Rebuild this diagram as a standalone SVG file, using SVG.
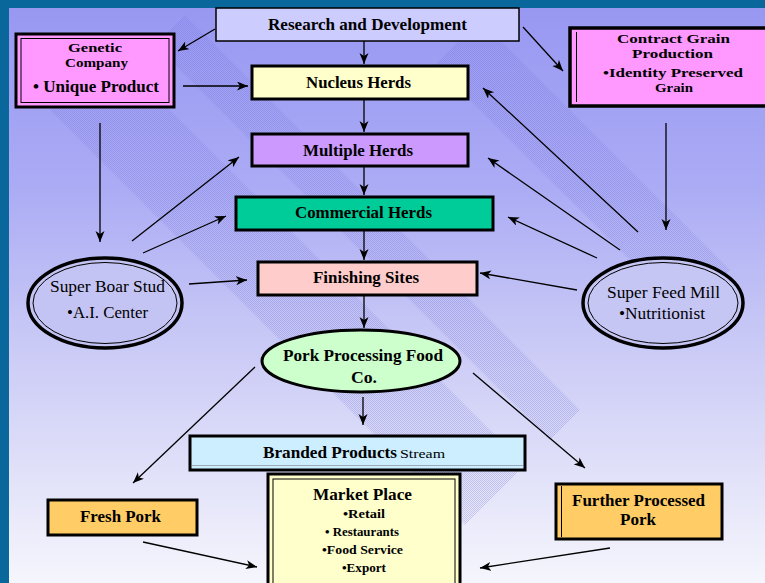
<svg xmlns="http://www.w3.org/2000/svg" width="765" height="583" viewBox="0 0 765 583">
<defs>
<linearGradient id="bg" x1="0" y1="0" x2="0" y2="1">
<stop offset="0" stop-color="#9898f2"/>
<stop offset="0.3" stop-color="#aaaaf5"/>
<stop offset="0.55" stop-color="#c6c6f6"/>
<stop offset="0.8" stop-color="#e0e0f9"/>
<stop offset="1" stop-color="#f6f6fd"/>
</linearGradient>
<pattern id="hatch" width="2" height="2" patternUnits="userSpaceOnUse">
<rect x="0" y="0" width="1" height="1" fill="#6f6fd6"/>
<rect x="1" y="1" width="1" height="1" fill="#6f6fd6"/>
</pattern>
<marker id="ah" markerUnits="userSpaceOnUse" markerWidth="12" markerHeight="10" refX="11" refY="4.5" orient="auto">
<path d="M0,0 L11,4.5 L0,9 L3,4.5 z" fill="#000"/>
</marker>
<style>
.box{stroke:#000;stroke-width:3}
.thin{fill:none;stroke:#000;stroke-width:1}
.t{font-family:"Liberation Serif","Times New Roman",serif;font-weight:bold;font-size:16px;fill:#000;text-anchor:middle}
.n{font-family:"Liberation Serif","Times New Roman",serif;font-weight:normal;font-size:16px;fill:#000;text-anchor:middle}
.s{font-size:13.5px}
.xs{font-size:13px}
.c line{stroke:#000;stroke-width:1.3;marker-end:url(#ah)}
.band{fill:url(#hatch);opacity:0.3}
</style>
</defs>

<rect x="0" y="0" width="765" height="583" fill="#0a679c"/>
<rect x="9" y="8" width="756" height="575" fill="url(#bg)"/>
<g id="bands">
<polygon class="band" points="50,110 110,50 525,465 465,525"/>
<polygon class="band" points="155,45 185,15 580,410 550,440"/>
<polygon class="band" points="435,65 480,20 730,270 685,315"/>
</g>

<g class="c" id="connectors">
<line x1="215" y1="29" x2="178" y2="51"/>
<line x1="523" y1="27" x2="563" y2="71"/>
<line x1="364" y1="41" x2="364" y2="64"/>
<line x1="183" y1="86" x2="248" y2="86"/>
<line x1="364" y1="100" x2="364" y2="132"/>
<line x1="364" y1="166" x2="364" y2="195"/>
<line x1="364" y1="231" x2="364" y2="260"/>
<line x1="364" y1="296" x2="364" y2="328"/>
<line x1="100" y1="123" x2="100" y2="242"/>
<line x1="666" y1="123" x2="666" y2="230"/>
<line x1="132" y1="241" x2="239" y2="157"/>
<line x1="143" y1="253" x2="226" y2="216"/>
<line x1="189" y1="284" x2="247" y2="280"/>
<line x1="638" y1="232" x2="483" y2="88"/>
<line x1="620" y1="250" x2="488" y2="158"/>
<line x1="597" y1="258" x2="508" y2="217"/>
<line x1="577" y1="290" x2="480" y2="273"/>
<line x1="255" y1="367" x2="133" y2="483"/>
<line x1="473" y1="373" x2="585" y2="468"/>
<line x1="363" y1="397" x2="363" y2="425"/>
<line x1="143" y1="542" x2="257" y2="567"/>
<line x1="610" y1="548" x2="480" y2="568"/>
</g>

<g id="rd">
<rect x="216" y="8" width="303" height="33" fill="#ccccff" stroke="#000" stroke-width="1.5"/>
<text class="t" x="367.5" y="30" textLength="199" lengthAdjust="spacingAndGlyphs">Research and Development</text>
</g>

<g id="genetic">
<rect class="box" x="16" y="34" width="158" height="73" fill="#ff99ff" stroke-width="3.5"/>
<rect class="thin" x="21" y="38.5" width="148" height="64"/>
<text class="t xs" x="95" y="52" textLength="54" lengthAdjust="spacingAndGlyphs">Genetic</text>
<text class="t xs" x="96.5" y="67" textLength="63" lengthAdjust="spacingAndGlyphs">Company</text>
<text class="t" x="96" y="92" textLength="126" lengthAdjust="spacingAndGlyphs">• Unique Product</text>
</g>

<g id="nucleus">
<rect class="box" x="252" y="66" width="216" height="33" fill="#ffffcc"/>
<text class="t" x="358.5" y="88" textLength="105" lengthAdjust="spacingAndGlyphs">Nucleus Herds</text>
</g>

<g id="contract">
<rect x="570" y="28" width="200" height="78" fill="#ff99ff"/>
<text class="t xs" x="673.5" y="43" textLength="113" lengthAdjust="spacingAndGlyphs">Contract Grain</text>
<text class="t xs" x="672.5" y="58" textLength="81" lengthAdjust="spacingAndGlyphs">Production</text>
<text class="t xs" x="673" y="77" textLength="140" lengthAdjust="spacingAndGlyphs">•Identity Preserved</text>
<text class="t xs" x="674" y="92" textLength="38" lengthAdjust="spacingAndGlyphs">Grain</text>
<rect x="570" y="28" width="200" height="78" fill="none" stroke="#000" stroke-width="3.5"/>
<line x1="576.5" y1="32" x2="576.5" y2="102" stroke="#000" stroke-width="1"/>
</g>

<g id="multiple">
<rect class="box" x="252" y="134" width="216" height="32" fill="#cc99ff"/>
<text class="t" x="358" y="156" textLength="110" lengthAdjust="spacingAndGlyphs">Multiple Herds</text>
</g>

<g id="commercial">
<rect class="box" x="236" y="197" width="257" height="33" fill="#00cc99"/>
<text class="t" x="363.5" y="218" textLength="137" lengthAdjust="spacingAndGlyphs">Commercial Herds</text>
</g>

<g id="finishing">
<rect class="box" x="258" y="262" width="219" height="33" fill="#ffcccc"/>
<text class="t" x="366" y="283" textLength="106" lengthAdjust="spacingAndGlyphs">Finishing Sites</text>
</g>

<g id="boar">
<ellipse cx="105" cy="303" rx="77" ry="45" fill="#c4c4f4" stroke="#000" stroke-width="3.5"/>
<ellipse class="thin" cx="105" cy="303" rx="72" ry="40.5"/>
<text class="n" x="107.5" y="292" textLength="115" lengthAdjust="spacingAndGlyphs">Super Boar Stud</text>
<text class="n" x="107.5" y="318" textLength="81" lengthAdjust="spacingAndGlyphs">•A.I. Center</text>
</g>

<g id="feedmill">
<ellipse cx="663" cy="303" rx="80" ry="45" fill="#c6c6f5" stroke="#000" stroke-width="3.5"/>
<ellipse class="thin" cx="663" cy="303" rx="75" ry="40.5"/>
<text class="n" x="663.5" y="298" textLength="113" lengthAdjust="spacingAndGlyphs">Super Feed Mill</text>
<text class="n" x="662" y="319" textLength="86" lengthAdjust="spacingAndGlyphs">•Nutritionist</text>
</g>

<g id="pork">
<ellipse cx="361" cy="361" rx="99" ry="31" fill="#ccffcc" stroke="#000" stroke-width="3"/>
<text class="t" x="363" y="361" textLength="160" lengthAdjust="spacingAndGlyphs">Pork Processing Food</text>
<text class="t" x="364" y="383" textLength="26" lengthAdjust="spacingAndGlyphs">Co.</text>
</g>

<g id="branded">
<rect class="box" x="190" y="436" width="335" height="34" fill="#cceeff"/>
<line x1="192" y1="465.5" x2="523" y2="465.5" stroke="#9ab" stroke-width="1"/>
<text class="t" x="263" y="458" textLength="134" lengthAdjust="spacingAndGlyphs" style="text-anchor:start">Branded Products</text>
<text class="n s" x="400" y="458" textLength="45" lengthAdjust="spacingAndGlyphs" style="text-anchor:start">Stream</text>
</g>

<g id="market">
<rect class="box" x="268" y="474" width="192" height="115" fill="#ffffcc" stroke-width="3.5"/>
<rect class="thin" x="273" y="479" width="182" height="110"/>
<text class="t" x="362.5" y="500" textLength="99" lengthAdjust="spacingAndGlyphs">Market Place</text>
<text class="t s" x="364" y="518" textLength="42" lengthAdjust="spacingAndGlyphs">•Retail</text>
<text class="t s" x="362" y="536" textLength="74" lengthAdjust="spacingAndGlyphs">• Restaurants</text>
<text class="t s" x="362.5" y="554" textLength="81" lengthAdjust="spacingAndGlyphs">•Food Service</text>
<text class="t s" x="364" y="572" textLength="44" lengthAdjust="spacingAndGlyphs">•Export</text>
</g>

<g id="fresh">
<rect class="box" x="48" y="500" width="149" height="35" fill="#ffcc66"/>
<text class="t" x="120.5" y="522" textLength="81" lengthAdjust="spacingAndGlyphs">Fresh Pork</text>
</g>

<g id="further">
<rect class="box" x="556" y="484" width="166" height="55" fill="#ffcc66"/>
<line x1="561.5" y1="486" x2="561.5" y2="537" stroke="#000" stroke-width="1"/>
<text class="t" x="638.5" y="506" textLength="133" lengthAdjust="spacingAndGlyphs">Further Processed</text>
<text class="t" x="638" y="525" textLength="36" lengthAdjust="spacingAndGlyphs">Pork</text>
</g>
</svg>
